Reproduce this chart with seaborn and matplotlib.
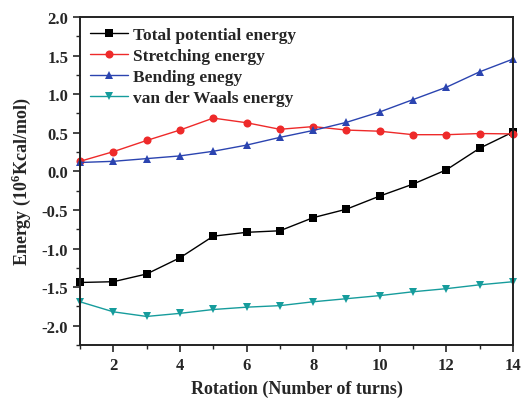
import numpy as np
import pandas as pd
import seaborn as sns
import matplotlib
matplotlib.use("Agg")
import matplotlib.pyplot as plt
from matplotlib.ticker import MultipleLocator

# Energy components (10^6 kcal/mol) versus number of turns
turns = list(range(1, 15))
total_potential = [-1.44, -1.43, -1.33, -1.12, -0.84, -0.79, -0.77, -0.60, -0.49, -0.32, -0.165, 0.02, 0.30, 0.51]
stretching = [0.13, 0.255, 0.40, 0.535, 0.69, 0.63, 0.545, 0.58, 0.535, 0.52, 0.475, 0.475, 0.49, 0.485]
bending = [0.115, 0.13, 0.165, 0.20, 0.26, 0.34, 0.44, 0.53, 0.635, 0.77, 0.93, 1.09, 1.29, 1.455]
van_der_waals = [-1.69, -1.82, -1.88, -1.84, -1.79, -1.76, -1.74, -1.69, -1.65, -1.61, -1.56, -1.52, -1.47, -1.43]

series_names = ["Total potential energy", "Stretching energy", "Bending enegy", "van der Waals energy"]
series_values = [total_potential, stretching, bending, van_der_waals]

df = pd.concat(
    [pd.DataFrame({"turns": turns, "energy": vals, "series": name})
     for name, vals in zip(series_names, series_values)],
    ignore_index=True,
)

sns.set_style("ticks")
plt.rcParams["font.family"] = ["Liberation Serif", "DejaVu Serif"]
plt.rcParams["font.weight"] = "bold"
plt.rcParams["axes.unicode_minus"] = False
plt.rcParams["mathtext.fontset"] = "custom"
plt.rcParams["mathtext.rm"] = "Liberation Serif:bold"
plt.rcParams["mathtext.bf"] = "Liberation Serif:bold"

palette = dict(zip(series_names, ["#000000", "#ee2a2a", "#2b44b0", "#169c9c"]))
markers = dict(zip(series_names, ["s", "o", "^", "v"]))

fig = plt.figure(figsize=(5.31, 4.02), dpi=100)
ax = fig.add_axes([80 / 531, 1 - 346 / 402, 433 / 531, 328 / 402])

sns.lineplot(
    data=df, x="turns", y="energy", hue="series", style="series",
    palette=palette, markers=markers, dashes=False, markersize=5.8,
    linewidth=1.0, markeredgewidth=0, ax=ax, clip_on=False,
)

ax.set_xlim(1, 14)
ax.set_ylim(-2.25, 2.0)
ax.xaxis.set_major_locator(MultipleLocator(2))
ax.xaxis.set_minor_locator(MultipleLocator(1))
ax.yaxis.set_major_locator(MultipleLocator(0.5))
ax.yaxis.set_minor_locator(MultipleLocator(0.25))
ax.tick_params(which="major", direction="out", length=5, width=1.2, labelsize=12)
ax.tick_params(which="minor", direction="out", length=3, width=1.0)
for lbl in ax.get_xticklabels() + ax.get_yticklabels():
    lbl.set_fontweight("bold")
for spine in ax.spines.values():
    spine.set_linewidth(1.4)
    spine.set_color("#222222")

ax.set_xlabel("Rotation (Number of turns)", fontsize=13, fontweight="bold", labelpad=5)
ax.set_ylabel("Energy (10$^{6}$Kcal/mol)", fontsize=13, fontweight="bold", labelpad=6)

leg = ax.legend(
    loc="upper left", frameon=False, handlelength=2.2,
    handletextpad=0.3, labelspacing=0.28, borderaxespad=0.15,
    prop={"weight": "bold", "size": 12.5},
)

fig.savefig("out.png", dpi=100)
